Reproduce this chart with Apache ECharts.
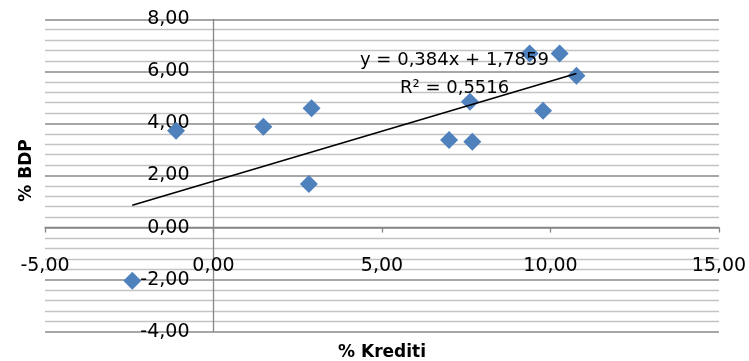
<!DOCTYPE html>
<html>
<head>
<meta charset="utf-8">
<script src="https://cdn.jsdelivr.net/npm/echarts@6/dist/echarts.min.js"></script>
<style>
  html, body { margin: 0; padding: 0; background: #ffffff; }
  #chart { width: 749px; height: 361px; }
</style>
</head>
<body>
<div id="chart"></div>
<script>
// Data
const kreditiPct = [-1.11, 1.48, 2.91, 2.83, 6.99, 7.68, 7.61, 9.38, 10.27, 10.77, 9.78, -2.41];
const bdpPct     = [3.72, 3.87, 4.58, 1.67, 3.36, 3.30, 4.83, 6.69, 6.69, 5.83, 4.49, -2.04];
const xTicks = [-5, 0, 5, 10, 15];
const yTicks = [-4, -2, 0, 2, 4, 6, 8];
const trendSlope = 0.384;
const trendIntercept = 1.7859;
const trendR2 = 0.5516;
const xTitle = '% Krediti';
const yTitle = '% BDP';

const fmt = v => v.toFixed(2).replace('.', ',');
const fmtCoef = (v, d) => v.toFixed(d).replace('.', ',');

const points = kreditiPct.map((x, i) => [x, bdpPct[i]]);
const xMinData = Math.min(...kreditiPct);
const xMaxData = Math.max(...kreditiPct);
const trendPoints = [xMinData, xMaxData].map(x => [x, trendSlope * x + trendIntercept]);

const W = 749, H = 361;
const GRID = { left: 45, right: 30, top: 19.3, bottom: 29.3 };
const FONT = 'DejaVu Sans';
const chart = echarts.init(document.getElementById('chart'), null, { renderer: 'canvas', width: W, height: H });

const axisGray = '#878787';

chart.setOption({
  animation: false,
  backgroundColor: '#ffffff',
  grid: Object.assign({ containLabel: false, outerBoundsMode: 'none' }, GRID),
  xAxis: {
    type: 'value',
    min: xTicks[0],
    max: xTicks[xTicks.length - 1],
    interval: xTicks[1] - xTicks[0],
    axisLine: { show: true, onZero: false, lineStyle: { color: axisGray, width: 1.3 } },
    axisTick: { show: true, length: 5, lineStyle: { color: axisGray, width: 1.3 } },
    axisLabel: { margin: 29, color: '#000000', fontFamily: FONT, fontSize: 19, formatter: fmt, hideOverlap: false },
    splitLine: { show: false },
    name: xTitle,
    nameLocation: 'middle',
    nameGap: 117,
    nameTextStyle: { color: '#000000', fontFamily: FONT, fontSize: 17, fontWeight: 'bold' }
  },
  yAxis: {
    type: 'value',
    min: yTicks[0],
    max: yTicks[yTicks.length - 1],
    interval: yTicks[1] - yTicks[0],
    axisLine: { show: true, onZero: false, lineStyle: { color: axisGray, width: 1.3 } },
    axisTick: { show: false },
    axisLabel: { margin: 24, color: '#000000', fontFamily: FONT, fontSize: 19, formatter: fmt, hideOverlap: false },
    splitLine: { show: true, lineStyle: { color: '#8a8a8a', width: 1.5 } },
    minorTick: { show: false, splitNumber: 5 },
    minorSplitLine: { show: true, lineStyle: { color: '#c3c3c3', width: 1.3 } },
    name: yTitle,
    nameLocation: 'middle',
    nameGap: 178,
    nameRotate: 90,
    nameTextStyle: { color: '#000000', fontFamily: FONT, fontSize: 17, fontWeight: 'bold', padding: [0, 0, 0, 10] }
  },
  series: [
    {
      type: 'scatter',
      data: points,
      symbol: 'diamond',
      symbolSize: [18, 18],
      itemStyle: { color: '#4F81BD', opacity: 1 },
      z: 2
    },
    {
      type: 'line',
      data: trendPoints,
      showSymbol: false,
      symbol: 'none',
      lineStyle: { color: '#000000', width: 1.5 },
      z: 3,
      silent: true
    }
  ],
  graphic: [
    {
      type: 'text',
      left: 360,
      top: 51,
      style: {
        text: 'y = ' + fmtCoef(trendSlope, 3) + 'x + ' + fmtCoef(trendIntercept, 4),
        fill: '#000000',
        font: '18px "DejaVu Sans"'
      },
      z: 10
    },
    {
      type: 'text',
      left: 400,
      top: 79,
      style: {
        text: 'R² = ' + fmtCoef(trendR2, 4),
        fill: '#000000',
        font: '18px "DejaVu Sans"'
      },
      z: 10
    }
  ]
});

// Move both axes (line, ticks, labels, name) to cross at the origin, using the library's own scales.
const origin = chart.convertToPixel({ gridIndex: 0 }, [0, 0]);
const gridBottomPx = H - GRID.bottom;
const gridLeftPx = GRID.left;
chart.setOption({
  xAxis: { offset: origin[1] - gridBottomPx },
  yAxis: { offset: gridLeftPx - origin[0] }
});
</script>
</body>
</html>
